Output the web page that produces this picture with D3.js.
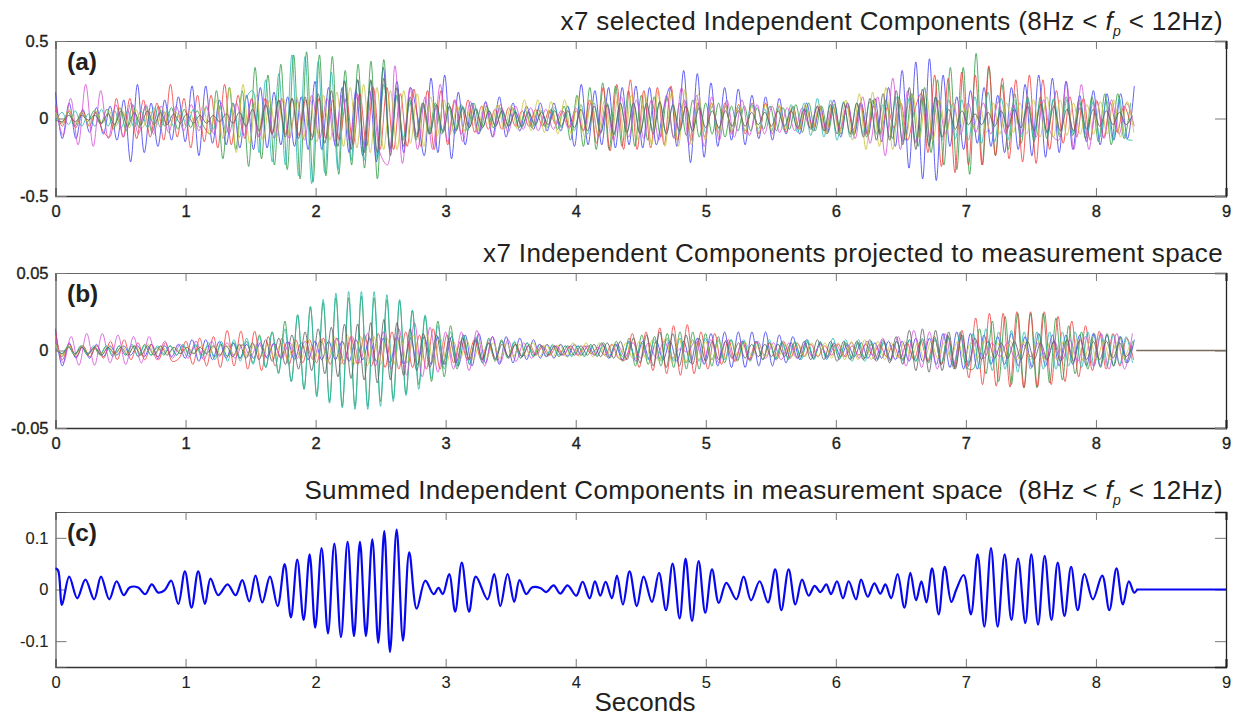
<!DOCTYPE html>
<html>
<head>
<meta charset="utf-8">
<script src="https://cdn.jsdelivr.net/npm/d3@7"></script>
<style>
  html, body { margin: 0; padding: 0; background: #fff; }
  text { font-family: "Liberation Sans", Arial, sans-serif; fill: #231f20; white-space: pre; }
</style>
</head>
<body>
<div id="chart"></div>
<script>
// Values: each series holds its successive peaks and troughs,
// one value every sample step (seconds)
var xTicks = [0, 1, 2, 3, 4, 5, 6, 7, 8, 9];
var seriesColors = ["#3c3cf2", "#2b9a3e", "#f23c3c", "#25b8b0", "#d24fd8", "#c9c23e", "#5c5c5c"];

var stepsA = [0.0525, 0.0495, 0.052, 0.0505, 0.058, 0.0515, 0.0505];
var blueA = [.17,-.13,.1,-.13,.06,-.09,.07,-.1,.08,-.14,
  .12,-.28,.22,-.22,.1,-.18,.12,-.14,.14,-.15,
  .21,-.24,.21,-.16,.12,-.17,.1,-.19,.15,-.2,
  .2,-.19,.17,-.17,.14,-.18,.14,-.2,.24,-.2,
  .2,-.18,.2,-.22,.18,-.24,.18,-.28,.33,-.2,
  .24,-.22,.2,.02,-.24,.26,-.22,.28,-.26,.17,
  -.17,.1,-.1,.11,-.12,.14,-.12,.1,-.08,.08,
  -.07,.1,-.08,.1,-.08,.08,-.18,.22,-.17,.18,
  -.17,.2,-.19,.2,-.17,.21,-.19,.2,-.17,.05,
  .2,-.18,.31,-.285,.29,-.25,.23,-.18,.2,-.14,
  .19,-.17,.15,-.13,.14,-.14,.13,-.1,.08,-.1,
  .1,-.08,.08,-.1,.12,-.12,.1,-.1,.1,-.11,
  .13,-.15,.2,-.18,.31,-.32,.365,-.39,.385,-.4,
  .28,-.18,.14,-.2,.18,-.16,.2,-.18,.15,-.22,
  .2,-.2,.22,-.24,.28,-.25,.26,-.22,.24,-.2,
  .15,-.15,.18,-.17,.16,-.14,.16,-.13,.21];
var greenA = [.05,-.03,.04,-.05,.04,-.02,.05,-.04,.06,-.07,
  .07,-.08,.09,-.06,.08,-.09,.08,-.05,.07,-.07,
  .06,-.06,.05,-.05,-.1,.18,-.26,.2,-.2,.18,
  -.31,.33,-.26,.28,-.3,.35,-.33,.41,-.39,.43,
  -.41,.41,-.37,.4,-.36,.31,-.3,.35,-.32,.37,
  -.39,.38,-.2,.15,-.14,.12,-.14,.1,-.1,.1,
  -.1,.1,-.1,.09,-.08,.1,-.08,.08,-.06,.07,
  -.06,.07,-.06,.05,-.06,.06,-.05,.06,-.07,.08,
  -.14,.15,-.18,.2,-.2,.23,-.2,.21,-.18,.18,
  -.18,.15,-.14,.14,-.12,.13,-.12,.1,-.11,.12,
  -.12,.1,-.1,.1,-.12,.08,-.08,.08,-.08,.07,
  -.07,.08,-.08,.07,-.07,.09,-.09,.1,-.08,.08,
  -.09,.09,-.1,.1,-.11,.1,-.12,.12,-.1,.12,
  -.13,.14,-.14,.16,-.18,.2,-.22,.25,-.3,.33,
  -.33,.33,-.36,.42,-.3,.33,-.24,.22,-.2,.16,
  -.16,.14,-.15,.14,-.13,.12,-.12,.14,-.11,.12,
  -.13,.14,-.15,.16,-.17,.16,-.13,.1];
var redA = [.09,-.05,.05,-.06,.05,-.05,.04,-.08,-.12,.13,
  -.12,.13,-.13,.12,-.12,.1,-.14,.22,-.12,.13,
  -.19,.15,-.15,.15,-.19,.22,-.17,.15,-.13,.13,
  -.12,.13,-.1,.12,-.1,.13,-.11,.12,-.12,.13,
  -.13,.12,-.14,.13,-.17,.16,-.18,.2,-.2,.2,
  -.2,.16,-.18,.19,-.18,.18,-.2,.18,-.17,.12,
  -.1,.12,-.09,.08,-.07,.06,-.07,.07,-.05,.05,
  -.05,.06,-.05,.05,-.04,.05,-.06,.05,-.08,.12,
  -.16,.2,-.21,.22,-.2,.25,-.2,.18,-.19,.2,
  -.17,.21,-.14,.12,-.14,.1,-.12,.1,-.09,.1,
  -.1,.09,-.1,.1,-.1,.1,-.1,.08,-.09,.07,
  -.07,.06,-.06,.07,-.08,.07,-.07,.08,-.07,.1,
  -.1,.08,-.1,.07,-.06,.1,-.14,.05,.16,-.22,
  .28,-.31,.26,-.35,.3,-.3,.28,-.3,.34,-.24,
  .26,-.26,.25,-.28,.28,-.29,.25,-.2,.18,-.16,
  .14,-.12,.13,-.14,.11,-.12,.1,-.09,.08,-.04];
var tealA = [-.02,.04,-.04,.05,-.05,.03,-.05,.06,-.05,.05,
  -.06,.05,-.06,.05,-.06,.07,-.06,.05,-.05,.05,
  -.05,.06,-.06,.07,-.07,.08,-.09,.1,-.12,.13,
  .18,-.22,.25,-.28,.29,-.3,.41,-.37,.4,-.42,
  .37,-.35,.3,-.33,.25,-.27,.25,-.27,.24,-.26,
  .22,-.2,.14,-.12,.1,-.1,.08,-.1,.07,-.08,
  .08,-.07,.08,-.06,.07,-.06,.05,-.05,.06,-.05,
  .05,-.06,.05,-.05,.05,-.06,.07,-.06,.08,-.08,
  .09,-.1,.1,-.1,.1,-.11,.1,-.09,.1,-.1,
  .09,-.08,.1,-.1,.08,-.09,.08,-.08,.1,-.09,
  .08,-.07,.08,-.09,.07,-.08,.09,-.07,.06,-.08,
  .07,-.08,.09,-.09,.1,-.11,.13,-.12,.12,-.14,
  .11,-.12,.1,-.1,.11,-.1,.09,-.12,.14,-.15,
  .13,-.15,.14,-.17,.14,-.14,.12,-.13,.12,-.14,
  .14,-.16,.17,-.15,.13,-.14,.12,-.12,.13,-.13,
  .12,-.1,.13,-.11,.12,-.1,.1,-.11,.11,-.12,
  .12,-.14,.13,-.13,-.14];
var magentaA = [.08,-.11,.13,-.17,.22,-.18,.18,-.13,.09,-.12,
  .1,-.1,.09,-.1,.08,-.09,.08,-.08,.09,-.08,
  .08,-.1,.1,-.1,.1,-.11,.12,-.12,.12,-.13,
  .13,-.13,.12,-.14,.15,-.13,.13,-.15,.15,-.14,
  .16,-.18,.2,-.22,-.3,.34,-.29,.2,-.2,.14,
  -.2,.22,-.15,.12,-.15,.11,-.1,.1,-.12,.09,
  -.09,.08,-.07,.07,-.08,.06,-.07,.05,-.06,.07,
  -.08,.1,-.12,.1,-.14,.14,-.12,.12,-.13,.12,
  -.14,.15,-.13,.2,-.17,.15,-.18,.14,-.14,.12,
  -.12,.12,-.11,.09,-.1,.08,-.09,.07,-.08,.07,
  -.06,.08,-.08,.09,-.08,.1,-.13,.14,-.16,.14,
  -.24,.26,-.2,.18,-.16,.14,-.14,.12,-.1,.1,
  -.1,.1,-.09,.1,-.1,.11,-.1,.09,-.1,.1,
  -.12,.12,-.1,-.14,.24,-.2,.22,-.2,.12,-.13,
  .12,-.1,.1,-.05];
var yellowA = [.04,-.03,.06,-.03,.04,-.04,.05,-.03,.05,-.05,
  .05,-.06,.06,-.06,.05,-.05,.06,-.05,.04,-.05,
  .05,-.07,.08,-.1,.12,-.13,.2,-.22,.22,-.16,
  .15,-.14,.12,-.12,.13,-.12,.14,-.13,.14,-.15,
  .15,-.14,.17,-.18,.2,-.19,.22,-.22,.2,-.2,
  .18,-.2,.18,-.16,.16,-.18,.14,-.11,.12,-.09,
  .08,-.08,.07,-.08,.09,-.06,.09,-.07,.08,-.07,
  .12,-.08,.12,-.09,.11,-.1,.12,-.1,.14,-.12,
  .12,-.1,.12,-.12,.14,-.13,.15,-.14,.16,-.17,
  .18,-.18,.17,-.18,.19,-.17,.16,-.14,.1,-.1,
  .08,-.08,.09,-.08,.08,-.09,.09,-.08,.09,-.07,
  .08,-.07,.09,-.08,.09,-.1,.1,-.1,.12,-.14,
  .16,-.2,.17,-.18,.2,-.2,.12,-.12,.15,-.13,
  .16,-.14,.12,-.1,.1,-.08,.09,-.07,.08,-.09,
  .1,-.1,.1,-.09,.1,-.1,.12,-.12,.14,-.12,
  .12,-.11,.1,-.1,.09,-.1,.11,-.1,.12,-.12,.11,-.09];
var grayA = [-.01,-.02,.02,-.02,.02,-.01,.02,-.03,.03,-.04,
  .05,-.05,.04,-.04,.05,-.04,.04,-.04,.03,-.03,
  .03,-.03,.02,-.03,.02,-.02,.03,-.03,.04,-.05,
  .06,-.08,.09,-.1,.12,-.12,.13,-.13,.14,-.14,
  .16,-.16,.18,-.18,.24,-.2,.25,-.22,.25,-.22,
  .26,-.24,.2,-.18,.14,-.12,.1,-.1,.09,-.09,
  .08,-.08,.07,-.06,.06,-.06,.05,-.05,.05,-.05,
  .04,-.05,.04,-.04,.04,-.04,.05,-.05,.05,-.06,
  .06,-.08,.08,-.09,.09,-.1,.1,-.09,.1,-.1,
  .1,-.1,.11,-.1,.09,-.08,.08,-.08,.07,-.06,
  .05,-.06,.05,-.05,.05,-.05,.04,-.04,.04,-.05,
  .05,-.05,.05,-.06,.06,-.07,.08,-.08,.09,-.1,
  .1,-.1,.1,-.12,.13,-.14,.16,-.14,.18,-.17,
  .2,-.2,.19,-.18,.14,-.12,.06,-.07,.05,-.04,
  .03,-.04,.04,-.05,.05,-.06,.06,-.06,.08,-.08,
  .09,-.09,.08,-.08,.06,-.08,.07,-.07,.06,-.05,
  .05,-.04,.04,-.04,.02];

var stepsB = [0.0525, 0.049, 0.0528, 0.049, 0.06, 0.051, 0.0505];
var blueB = [.014,-.01,.005,-.005,.003,-.005,.004,-.004,.003,-.003,
  .003,-.003,.003,-.004,.004,-.004,.003,-.004,.004,-.005,
  .007,-.007,.007,-.006,.006,-.005,.005,-.005,.004,-.005,
  .005,-.005,.005,-.005,.006,-.006,.005,-.006,.006,-.006,
  .006,-.006,.006,-.007,.007,-.006,.008,-.007,.008,-.008,
  .009,-.009,.008,-.009,.009,-.009,.009,-.009,.009,-.01,
  .01,-.01,.011,-.008,.009,-.009,.009,-.008,.008,-.006,
  .007,-.005,.004,-.005,.004,-.004,.004,-.003,.003,-.003,
  .005,-.005,.004,-.006,.006,-.007,.006,-.006,.006,-.006,
  .006,-.007,.006,-.008,.008,-.009,.011,-.01,.012,-.011,
  .012,-.011,.012,-.01,.012,-.01,.01,-.008,.009,-.006,
  .007,-.005,.005,-.005,.005,-.004,.004,-.004,.005,-.005,
  .005,-.005,.006,-.006,.006,-.007,.008,-.007,.008,-.009,
  .011,-.011,.012,-.012,.011,-.012,.01,-.009,.009,-.009,
  .011,-.01,.009,-.011,.011,-.01,.01,-.01,.01,-.009,
  .01,-.01,.011,-.01,.01,-.01,.009,-.008,.007];
var greenB = [.006,-.004,.003,-.003,.003,-.003,.002,-.003,.003,-.003,
  .003,-.003,.003,-.004,.004,-.003,.002,-.003,.003,-.003,
  .003,-.002,.003,-.003,.003,-.004,.004,-.004,.005,-.005,
  .006,-.008,.01,-.011,.012,-.015,.019,-.02,.023,-.025,
  .028,-.029,.031,-.033,.034,-.036,.034,-.036,.035,-.036,
  .034,-.033,.033,-.031,.032,-.028,.026,-.022,.022,-.02,
  .019,-.017,.016,-.012,.01,-.009,.008,-.008,.008,-.007,
  .007,-.005,.005,-.005,.005,-.004,.004,-.004,.003,-.004,
  .003,-.003,.003,-.004,.004,-.004,.005,-.005,.006,-.007,
  .008,-.01,.01,-.009,.009,-.01,.011,-.011,.012,-.012,
  .012,-.012,.011,-.01,.009,-.008,.007,-.007,.006,-.007,
  .006,-.006,.005,-.005,.005,-.005,.005,-.004,.005,-.005,
  .005,-.004,.004,-.005,.005,-.005,.005,-.005,.004,-.005,
  .005,-.006,.006,-.006,.007,-.007,.007,-.008,.007,-.009,
  .01,-.012,.012,-.011,-.012,.014,-.015,.019,-.02,.022,
  -.022,.024,-.024,.024,-.024,.024,-.021,.021,-.019,.016,
  -.015,.012,-.012,.011,-.011,.011,-.01,.009,-.008,.006];
var redB = [.013,-.006,.004,-.004,.003,-.004,.003,-.005,.006,-.006,
  .007,-.006,.005,-.006,.004,-.006,.005,-.007,-.005,.006,
  -.009,.008,-.01,.009,-.011,.013,-.01,.0125,-.012,.0125,
  -.013,.009,-.01,.008,-.009,.007,-.008,.007,-.008,.008,
  -.009,.008,-.009,.009,-.009,.01,-.01,.011,-.011,.012,
  -.012,.012,-.011,.01,-.012,.014,-.012,.01,-.008,.006,
  -.006,.007,-.006,.005,-.006,.006,-.005,.004,-.004,.004,
  -.003,.003,-.003,.003,-.003,.003,-.003,.003,-.002,.002,
  -.003,.004,-.005,-.006,.011,-.011,.012,-.013,.0146,-.015,
  .016,-.016,.0167,-.015,.012,-.012,.011,-.009,.007,-.007,
  .006,-.006,.006,-.006,.005,-.006,.006,-.005,.005,-.004,
  .004,-.004,.003,-.003,.004,-.004,.003,-.003,.004,-.003,
  .004,-.004,.004,-.005,.005,-.006,.006,-.007,.009,-.009,
  .009,-.011,.013,-.0176,.021,-.022,.024,-.023,.024,-.0236,
  .025,-.024,.025,-.0236,.025,-.022,.022,-.02,.019,-.017,
  .016,-.013,.0125,-.012,.011,-.01,.008,-.006];
var tealB = [.003,-.002,.003,-.003,.003,-.002,.003,-.002,.003,-.004,
  .003,-.003,.004,-.004,.003,-.003,.003,-.002,.003,-.003,
  .004,-.004,.004,-.005,.005,-.006,.006,-.007,.007,-.007,
  .008,-.009,.009,-.011,.012,-.014,.014,-.02,.023,-.025,
  .0285,-.03,.033,-.034,.037,-.037,.038,-.038,.038,-.038,
  .038,-.036,.036,-.033,.033,-.029,.026,-.025,.023,-.018,
  .016,-.012,.012,-.01,.01,-.009,.009,-.008,.007,-.006,
  .006,-.005,.006,-.005,.005,-.004,.004,-.004,.004,-.003,
  .003,-.004,.003,-.003,.003,-.003,.003,-.003,.004,-.004,
  .005,-.005,.005,-.006,.007,-.007,.008,-.007,.008,-.008,
  .007,-.007,.008,-.006,.007,-.006,.007,-.006,.007,-.006,
  .006,-.006,.007,-.006,.006,-.006,.006,-.006,.007,-.006,
  .006,-.006,.008,-.006,.007,-.007,.007,-.007,.006,-.006,
  .006,-.006,.006,-.007,.007,-.007,.008,-.007,.008,-.008,
  .009,-.01,.011,-.012,.011,-.012,.014,-.013,.012,-.012,
  .013,-.014,.012,-.012,.012,-.012,.012,-.012,.012,-.01,
  .012,-.011,.012,-.01,.011,-.01,.01,-.009,.009,-.008];
var magentaB = [.008,-.008,.009,-.0095,.011,-.0095,.011,-.008,.01,-.009,
  .009,-.008,.009,-.006,.006,-.005,.004,-.005,.006,-.006,
  .006,-.004,.005,-.005,.004,-.004,.005,-.004,.004,-.005,
  .005,-.005,.006,-.006,.007,-.006,.008,-.007,.009,-.008,
  .011,-.01,.012,-.012,.014,-.016,.018,-.017,.015,-.014,
  .012,-.012,.012,-.013,.013,-.01,.009,-.008,.007,-.007,
  .005,-.005,.004,-.004,.003,-.003,.003,-.003,.003,-.003,
  .004,-.004,.004,-.004,.005,-.005,.005,-.005,.006,-.005,
  .001,-.001,.006,-.007,.007,-.008,.007,-.007,.006,-.006,
  .006,-.005,.005,-.006,.005,-.005,.004,-.004,.004,-.004,
  .004,-.004,.005,-.005,.006,-.006,.008,-.007,.009,-.01,
  .013,-.011,.012,-.012,.011,-.01,.008,-.008,.006,-.005,
  .005,-.004,.005,-.005,.004,-.004,.005,-.006,.006,-.006,
  .007,-.007,.009,-.01,.011,-.012,.011,-.012,.011];
var yellowB = [.004,-.003,.003,-.003,.003,-.002,.002,-.003,.003,-.003,
  .003,-.002,.003,-.003,.004,-.003,.003,-.002,.002,-.002,
  .002,-.002,.003,-.003,.003,-.003,.003,-.003,.004,-.004,
  .004,-.004,.004,-.005,.005,-.006,.006,-.006,.007,-.007,
  .008,-.008,.009,-.009,.01,-.009,.009,-.01,.009,-.009,
  .008,-.009,.009,-.008,.01,-.009,.01,-.008,.008,-.007,
  .006,-.006,.007,-.006,.005,-.005,.005,-.005,.005,-.004,
  .004,-.004,.005,-.004,.004,-.004,.004,-.004,.005,-.004,
  .005,-.004,.005,-.004,.004,-.005,.005,-.005,.006,-.005,
  .007,-.007,.008,-.008,.008,-.008,.007,-.006,.006,-.006,
  .006,-.005,.005,-.005,.005,-.004,.004,-.004,.004,-.004,
  .004,-.004,.004,-.004,.005,-.004,.005,-.005,.005,-.006,
  .006,-.006,.007,-.006,.006,-.006,.005,-.005,.006,-.005,
  .005,-.006,.006,-.005,.005,-.005,.006,-.005,.005,-.005,
  .006,-.005,.005,-.005,.006,-.006,.006,-.006,.007,-.006,
  .006,-.006,.006,-.007,.007,-.007,.006,-.006,.006,-.006,.005,-.005,.004];
var grayB = [.001,-.002,.002,-.002,.002,-.002,.002,-.003,.002,-.002,
  .002,-.003,.003,-.003,.003,-.003,.003,-.003,.002,-.002,
  .002,-.002,.002,-.002,.003,-.003,.003,-.004,.004,-.005,
  .005,-.006,.007,-.007,.008,-.009,.01,-.012,.012,-.013,
  .014,-.015,.015,-.017,.017,-.018,.017,-.019,.018,-.021,
  .02,-.019,.018,-.016,.014,-.013,.011,-.011,.01,-.009,
  .008,-.008,.008,-.006,.007,-.006,.005,-.005,.004,-.004,
  .004,-.004,.003,-.003,.003,-.003,.003,-.003,.003,-.003,
  .003,-.003,.004,-.004,.005,-.005,.006,-.006,.008,-.008,
  .01,-.01,.012,-.011,.011,-.01,.01,-.009,.008,-.007,
  .006,-.006,.006,-.005,.005,-.005,.004,-.004,.004,-.004,
  .004,-.004,.005,-.005,.006,-.006,.007,-.006,.006,-.007,
  .006,-.006,.006,-.006,.007,-.007,.007,-.008,.009,-.009,
  .013,-.013,.014,-.014,.013,-.013,.012,-.012,.01,-.01,
  .008,-.006,.006,-.005,.005,-.005,.006,-.006,.006,-.006,
  .005,-.006,.006,-.007,.007,-.007,.007,-.006,.006,-.006,.006,-.005,.005,-.004,.003];

// Components are zero after the end of the recording
var flatTimes = [8.31, 9];
var flatValues = [0, 0];

var sumTimes = [0,.02,.05,.105,.167,.23,.297,.35,.413,.47,.525,.57,.635,.69,.74,.79,.84,.89,.944,.995,
  1.046,1.097,1.149,1.192,1.251,1.323,1.385,1.436,1.49,1.538,1.59,1.649,1.708,1.762,1.81,1.859,1.908,1.954,1.997,
  2.046,2.095,2.144,2.195,2.246,2.295,2.341,2.387,2.436,2.482,2.528,2.572,2.623,2.672,2.72,2.777,2.843,2.907,2.945,2.978,
  3.027,3.073,3.124,3.18,3.232,3.322,3.373,3.42,3.476,3.527,3.568,3.62,3.663,3.727,3.773,3.83,3.881,3.937,4.004,
  4.053,4.107,4.148,4.189,4.23,4.278,4.317,4.363,4.414,4.47,4.522,4.586,4.64,4.694,4.745,4.799,4.845,4.894,4.945,4.996,
  5.048,5.1,5.158,5.235,5.291,5.348,5.414,5.478,5.534,5.581,5.637,5.689,5.74,5.791,5.837,5.881,5.927,5.963,
  6.009,6.055,6.099,6.155,6.194,6.245,6.296,6.342,6.381,6.425,6.475,6.527,6.573,6.617,6.658,6.697,6.74,6.791,6.837,6.888,6.925,6.983,
  7.039,7.09,7.142,7.193,7.244,7.298,7.35,7.401,7.457,7.503,7.555,7.606,7.658,7.706,7.758,7.809,7.86,7.912,7.976,
  8.048,8.103,8.158,8.207,8.253,8.294,8.317];
var sumValues = [.041,.037,-.03,.025,-.017,.019,-.019,.025,-.019,.016,-.011,.004,.004,-.009,.01,-.006,-.001,.017,-.028,.035,
  -.035,.035,-.028,.021,-.011,.01,-.011,.018,-.023,.027,-.025,.025,-.032,.049,-.054,.058,-.059,.068,-.074,
  .08,-.085,.089,-.092,.092,-.09,.092,-.09,.097,-.103,.113,-.121,.116,-.099,.072,-.037,.017,-.009,.003,-.009,
  .03,-.043,.052,-.043,.025,-.019,.03,-.032,.03,-.024,.018,-.009,.004,.003,-.005,.008,-.008,.008,-.012,
  .015,-.017,.016,-.012,.015,-.017,.027,-.029,.035,-.032,.025,-.024,.032,-.04,.05,-.056,.06,-.061,.055,-.045,
  .039,-.026,.013,-.019,.025,-.021,.016,-.025,.039,-.04,.039,-.029,.019,-.012,.007,-.005,.01,-.009,
  .016,-.017,.016,-.019,.019,-.014,.012,-.008,.01,-.017,.03,-.035,.032,-.021,.016,-.025,.041,-.048,.044,-.024,-.001,.028,
  -.048,.068,-.072,.08,-.072,.068,-.059,.06,-.065,.068,-.068,.065,-.059,.052,-.051,.044,-.04,.03,-.019,
  .027,-.04,.041,-.029,.016,-.006,0];

var seriesA = [blueA, greenA, redA, tealA, magentaA, yellowA, grayA];
var seriesB = [blueB, greenB, redB, tealB, magentaB, yellowB, grayB];

var width = 1245, height = 717;
var left = 55.5, right = 1226;

var svg = d3.select("#chart").append("svg")
    .attr("width", width)
    .attr("height", height)
    .style("display", "block");

var x = d3.scaleLinear().domain([0, 9]).range([left, right]);

// One framed panel: axes on all four sides with inward ticks
function panel(top, bottom, yMax, yTicks, letter, labelWeight) {
    var y = d3.scaleLinear().domain([-yMax, yMax]).range([bottom, top]);
    var g = svg.append("g");

    var axisBottom = g.append("g").attr("transform", "translate(0," + bottom + ")")
        .call(d3.axisBottom(x).tickValues(xTicks).tickFormat(d3.format("d")).tickSize(-8).tickPadding(9));
    var axisTop = g.append("g").attr("transform", "translate(0," + top + ")")
        .call(d3.axisTop(x).tickValues(xTicks).tickFormat("").tickSize(-8));
    var axisLeft = g.append("g").attr("transform", "translate(" + left + ",0)")
        .call(d3.axisLeft(y).tickValues(yTicks).tickFormat(function(d) { return d; }).tickSize(-11).tickPadding(7));
    var axisRight = g.append("g").attr("transform", "translate(" + right + ",0)")
        .call(d3.axisRight(y).tickValues(yTicks).tickFormat("").tickSize(-11));

    g.selectAll(".tick line").attr("stroke", "#777").attr("stroke-width", 1);
    g.selectAll(".tick text")
        .style("font-size", "16.5px")
        .style("fill", "#231f20")
        .style("stroke", "#231f20")
        .style("stroke-width", labelWeight);

    // Frame is lighter on top and left, darker on bottom and right
    axisTop.select(".domain").attr("stroke", "#666").attr("stroke-width", 1.2);
    axisLeft.select(".domain").attr("stroke", "#555").attr("stroke-width", 1.2);
    axisBottom.select(".domain").attr("stroke", "#333").attr("stroke-width", 1.3);
    axisRight.select(".domain").attr("stroke", "#222").attr("stroke-width", 1.3);
    axisTop.selectAll(".tick line").filter(function(d) { return d === 9; }).attr("stroke", "#222").attr("stroke-width", 2);
    axisBottom.selectAll(".tick line").filter(function(d) { return d === 9; }).attr("stroke", "#222").attr("stroke-width", 2);

    g.append("text")
        .attr("x", 67)
        .attr("y", top + 29)
        .style("font-size", "24.5px")
        .style("font-weight", "bold")
        .text(letter);

    return { group: g, y: y };
}

function drawSeries(p, series, steps) {
    var line = d3.line()
        .x(function(d) { return x(d[0]); })
        .y(function(d) { return p.y(d[1]); })
        .curve(d3.curveCatmullRom.alpha(0.5));
    series.forEach(function(values, k) {
        var pts = values.map(function(v, i) { return [i * steps[k], v]; });
        p.group.append("path")
            .datum(pts)
            .attr("fill", "none")
            .attr("stroke", seriesColors[k])
            .attr("stroke-width", 0.9)
            .attr("stroke-opacity", 0.9)
            .attr("d", line);
    });
}

function drawFlat(p, color, strokeWidth) {
    p.group.append("path")
        .datum(flatTimes.map(function(t, i) { return [t, flatValues[i]]; }))
        .attr("fill", "none")
        .attr("stroke", color)
        .attr("stroke-width", strokeWidth)
        .attr("d", d3.line().x(function(d) { return x(d[0]); }).y(function(d) { return p.y(d[1]); }));
}

function title(yPos, before, after) {
    var t = svg.append("text")
        .attr("x", 1223)
        .attr("y", yPos)
        .attr("text-anchor", "end")
        .style("font-size", "26px")
        .style("letter-spacing", "0.36px");
    t.append("tspan").text(before);
    if (after) {
        t.append("tspan").style("font-style", "italic").text("f");
        t.append("tspan").style("font-style", "italic").style("font-size", "14px").attr("dy", 6).text("p");
        t.append("tspan").attr("dy", -6).text(after);
    }
}

var pa = panel(41, 196, 0.5, [-0.5, 0, 0.5], "(a)", 0.35);
drawSeries(pa, seriesA, stepsA);

var pb = panel(273, 428, 0.05, [-0.05, 0, 0.05], "(b)", 0.35);
drawSeries(pb, seriesB, stepsB);
drawFlat(pb, "#7d6b5d", 1.4);

var pc = panel(512, 667, 0.15, [-0.1, 0, 0.1], "(c)", 0.1);
pc.group.append("path")
    .datum(sumTimes.map(function(t, i) { return [t, sumValues[i]]; }))
    .attr("fill", "none")
    .attr("stroke", "#0808f0")
    .attr("stroke-width", 2.2)
    .attr("d", d3.line()
        .x(function(d) { return x(d[0]); })
        .y(function(d) { return pc.y(d[1]); })
        .curve(d3.curveCatmullRom.alpha(0.5)));
drawFlat(pc, "#0808f0", 2.2);

title(30, "x7 selected Independent Components (8Hz < ", " < 12Hz)");
title(262, "x7 Independent Components projected to measurement space");
title(499, "Summed Independent Components in measurement space  (8Hz < ", " < 12Hz)");

svg.append("text")
    .attr("x", 645)
    .attr("y", 711)
    .attr("text-anchor", "middle")
    .style("font-size", "26px")
    .text("Seconds");
</script>
</body>
</html>
